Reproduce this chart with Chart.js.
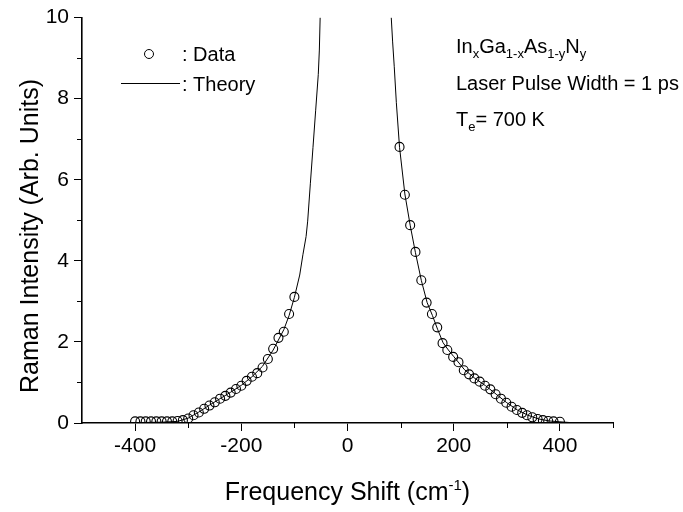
<!DOCTYPE html>
<html>
<head>
<meta charset="utf-8">
<script src="https://cdn.jsdelivr.net/npm/chart.js@4.4.0/dist/chart.umd.min.js"></script>
<style>
  html, body { margin: 0; padding: 0; background: #fff; }
</style>
</head>
<body>
<canvas id="raman" width="683" height="512"></canvas>
<script>
const dataShiftLeft = [-400, -390, -380, -370, -360, -350, -340, -330, -320, -310, -300, -290, -280, -270, -260, -250, -240, -230, -220, -210, -200, -190, -180, -170, -160, -150, -140, -130, -120, -110, -100];
const dataIntLeft = [0.04, 0.04, 0.04, 0.04, 0.04, 0.04, 0.04, 0.04, 0.05, 0.07, 0.11, 0.19, 0.26, 0.35, 0.43, 0.51, 0.6, 0.67, 0.75, 0.84, 0.92, 1.04, 1.14, 1.23, 1.37, 1.58, 1.83, 2.1, 2.25, 2.69, 3.11];
const dataShiftRight = [98, 108, 118, 128, 139, 149, 159, 169, 179, 188, 199, 209, 219, 229, 239, 249, 259, 269, 279, 289, 299, 309, 319, 329, 338, 348, 358, 368, 378, 388, 400];
const dataIntRight = [6.81, 5.63, 4.88, 4.22, 3.52, 2.97, 2.69, 2.36, 1.97, 1.8, 1.63, 1.5, 1.3, 1.2, 1.1, 1.02, 0.92, 0.83, 0.71, 0.6, 0.5, 0.4, 0.32, 0.25, 0.19, 0.14, 0.1, 0.07, 0.05, 0.04, 0.03];

// theory curve, two branches
const theoryShiftLeft = [-500, -450, -400, -350, -320, -300, -280, -260, -240, -220, -200, -180, -160, -140, -120, -110, -100, -90, -84, -78, -75, -70, -65, -60, -55, -53, -51.5];
const theoryIntLeft = [0, 0, 0.01, 0.02, 0.04, 0.12, 0.27, 0.44, 0.6, 0.76, 0.93, 1.14, 1.4, 1.8, 2.3, 2.65, 3.1, 3.65, 4.15, 4.6, 4.98, 5.9, 6.8, 7.7, 8.6, 9.2, 10];
const theoryShiftRight = [82.4, 85, 88, 92, 98, 108, 118, 128, 139, 150, 160, 170, 180, 190, 200, 220, 240, 260, 280, 300, 320, 340, 360, 380, 400, 420, 450, 500];
const theoryIntRight = [10, 9.4, 8.8, 7.9, 6.8, 5.65, 4.88, 4.2, 3.52, 2.97, 2.65, 2.3, 1.98, 1.8, 1.64, 1.32, 1.1, 0.92, 0.71, 0.5, 0.32, 0.19, 0.1, 0.05, 0.03, 0.01, 0, 0];

// tick labels
const xTickLabels = [-400, -200, 0, 200, 400];
const yTickLabels = [0, 2, 4, 6, 8, 10];

const FONT = '"Liberation Sans", Arial, Helvetica, sans-serif';
const pts = (xs, ys) => xs.map((v, i) => ({ x: v, y: ys[i] }));
const isMajor = (v, list) => list.includes(v);

// draws runs of [text, dy, size] left to right, returns end x
function runs(ctx, list, x, y, measureOnly) {
  let cx = x;
  list.forEach(([t, dy, size]) => {
    ctx.font = size + 'px ' + FONT;
    if (!measureOnly) ctx.fillText(t, cx, y + dy);
    cx += ctx.measureText(t).width;
  });
  return cx;
}

const decor = {
  id: 'decor',
  afterDraw(chart) {
    const { ctx, scales: { x, y } } = chart;
    ctx.save();
    ctx.strokeStyle = '#000';
    ctx.fillStyle = '#000';
    ctx.lineWidth = 1;

    // minor ticks, shorter than the major ones
    ctx.beginPath();
    for (let v = -400; v <= 500; v += 100) {
      if (isMajor(v, xTickLabels)) continue;
      const px = Math.round(x.getPixelForValue(v)) + 0.5;
      ctx.moveTo(px, y.bottom);
      ctx.lineTo(px, y.bottom + 5);
    }
    for (let v = 1; v < 10; v += 2) {
      const py = Math.round(y.getPixelForValue(v)) + 0.5;
      ctx.moveTo(x.left, py);
      ctx.lineTo(x.left - 5, py);
    }
    ctx.stroke();

    // axis titles
    ctx.textBaseline = 'alphabetic';
    const xt = [['Frequency Shift (cm', 0, 25], ['-1', -10, 15], [')', 0, 25]];
    const w = runs(ctx, xt, 0, 0, true);
    runs(ctx, xt, (x.left + x.right) / 2 - w / 2, 500);
    ctx.save();
    ctx.translate(38, 236);
    ctx.rotate(-Math.PI / 2);
    ctx.font = '25px ' + FONT;
    ctx.textAlign = 'center';
    ctx.fillText('Raman Intensity (Arb. Units)', 0, 0);
    ctx.restore();

    // legend
    ctx.textBaseline = 'middle';
    ctx.font = '20px ' + FONT;
    ctx.beginPath();
    ctx.arc(149, 54, 4.5, 0, Math.PI * 2);
    ctx.stroke();
    ctx.fillText(': Data', 182, 55);
    ctx.beginPath();
    ctx.moveTo(121, 83.5);
    ctx.lineTo(180, 83.5);
    ctx.stroke();
    ctx.fillText(': Theory', 182, 85);

    // annotation with subscripts
    runs(ctx, [['In', 0, 20], ['x', 7, 13], ['Ga', 0, 20], ['1-x', 7, 13], ['As', 0, 20], ['1-y', 7, 13], ['N', 0, 20], ['y', 7, 13]], 456, 47);
    ctx.font = '20px ' + FONT;
    ctx.fillText('Laser Pulse Width = 1 ps', 456, 84);
    runs(ctx, [['T', 0, 20], ['e', 7, 13], ['= 700 K', 0, 20]], 456, 120);
    ctx.restore();
  }
};

new Chart(document.getElementById('raman'), {
  type: 'scatter',
  data: {
    datasets: [
      {
        label: 'Data',
        data: pts(dataShiftLeft, dataIntLeft).concat(pts(dataShiftRight, dataIntRight)),
        pointStyle: 'circle',
        pointRadius: 4.5,
        pointBorderWidth: 1.1,
        borderColor: '#000',
        backgroundColor: 'rgba(0,0,0,0)'
      },
      {
        label: 'Theory',
        data: pts(theoryShiftLeft, theoryIntLeft),
        showLine: true,
        pointRadius: 0,
        borderColor: '#000',
        borderWidth: 1,
        tension: 0
      },
      {
        label: 'Theory right',
        data: pts(theoryShiftRight, theoryIntRight),
        showLine: true,
        pointRadius: 0,
        borderColor: '#000',
        borderWidth: 1,
        tension: 0
      }
    ]
  },
  options: {
    responsive: false,
    animation: false,
    layout: { padding: { left: 0, right: 70, top: 15, bottom: 0 } },
    plugins: { legend: { display: false }, tooltip: { enabled: false } },
    scales: {
      x: {
        type: 'linear',
        min: -500,
        max: 500,
        afterFit: s => { s.height = 89; },
        border: { display: true, color: '#000', width: 1.6 },
        grid: {
          drawOnChartArea: false,
          tickLength: 8,
          tickColor: c => (c.tick && isMajor(c.tick.value, xTickLabels)) ? '#000' : 'rgba(0,0,0,0)'
        },
        ticks: {
          stepSize: 100,
          maxRotation: 0,
          autoSkip: false,
          padding: 3,
          color: '#000',
          font: { family: FONT, size: 21 },
          callback: v => isMajor(v, xTickLabels) ? String(v) : ''
        },
        title: { display: false }
      },
      y: {
        type: 'linear',
        min: 0,
        max: 10,
        afterFit: s => { s.width = 82; },
        border: { display: true, color: '#000', width: 1.6 },
        grid: {
          drawOnChartArea: false,
          tickLength: 8,
          tickColor: c => (c.tick && isMajor(c.tick.value, yTickLabels)) ? '#000' : 'rgba(0,0,0,0)'
        },
        ticks: {
          stepSize: 1,
          autoSkip: false,
          padding: 5,
          color: '#000',
          font: { family: FONT, size: 21 },
          callback: v => isMajor(v, yTickLabels) ? String(v) : ''
        },
        title: { display: false }
      }
    }
  },
  plugins: [decor]
});
</script>
</body>
</html>
